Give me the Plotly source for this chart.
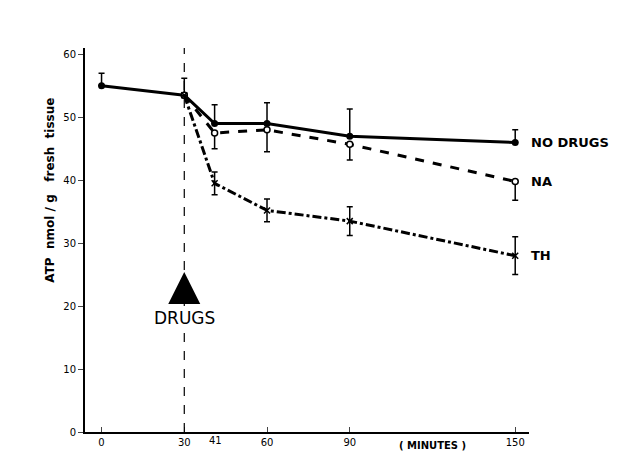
import plotly.graph_objects as go

t_pre = [0, 30]
atp_pre = [55, 53.5]
err_pre = [2, 2.7]

t = [30, 41, 60, 90, 150]
no_drugs = [53.5, 49, 49, 47, 46]
no_drugs_err = [0, 3, 3.3, 4.3, 2]
na = [53.5, 47.5, 48, 45.7, 39.8]
na_err = [0, 2.5, 3.5, 2.5, 3]
th = [53.5, 39.5, 35.2, 33.5, 28]
th_err = [0, 1.8, 1.8, 2.3, 3]

black = "black"
fig = go.Figure()
fig.add_trace(go.Scatter(x=t_pre, y=atp_pre, mode="lines+markers",
                         line=dict(color=black, width=3), marker=dict(size=7, color=black),
                         error_y=dict(type="data", array=err_pre, arrayminus=[0, 0], color=black, width=3, thickness=1.5)))
fig.add_trace(go.Scatter(x=t, y=no_drugs, mode="lines+markers",
                         line=dict(color=black, width=3), marker=dict(size=7, color=black),
                         error_y=dict(type="data", array=no_drugs_err, arrayminus=[0]*5, color=black, width=3, thickness=1.5)))
fig.add_trace(go.Scatter(x=t, y=na, mode="lines+markers",
                         line=dict(color=black, width=3, dash="dash"),
                         marker=dict(size=6, color="white", line=dict(color=black, width=1.5)),
                         error_y=dict(type="data", array=[0]*5, arrayminus=na_err, color=black, width=3, thickness=1.5)))
fig.add_trace(go.Scatter(x=t, y=th, mode="lines+markers",
                         line=dict(color=black, width=3, dash="dashdot"),
                         marker=dict(size=6, color=black, symbol="x-thin", line=dict(color=black, width=1.5)),
                         error_y=dict(type="data", array=th_err, color=black, width=3, thickness=1.5)))

fig.add_vline(x=30, line=dict(color=black, width=1.2, dash="dash"))

for name, y in [("NO DRUGS", no_drugs[-1]), ("NA", na[-1]), ("TH", th[-1])]:
    fig.add_annotation(x=150, y=y, text="<b>" + name + "</b>", xanchor="left", xshift=14,
                       showarrow=False, font=dict(size=13, color=black))
fig.add_annotation(x=30, y=20.0, text="DRUGS", showarrow=False, yanchor="top", bgcolor="white",
                   font=dict(size=17, color=black))
fig.add_annotation(x=30, y=25.4, ax=30, ay=22.2, xref="x", yref="y", axref="x", ayref="y",
                   text="", showarrow=True, arrowhead=2, arrowsize=0.8, arrowwidth=8, arrowcolor=black)
fig.add_annotation(x=41, y=0, text="41", showarrow=False, yshift=-8, xshift=1,
                   font=dict(size=10, color=black))
fig.add_annotation(x=120, y=0, text="<b>( MINUTES )</b>", showarrow=False, yshift=-13,
                   font=dict(size=10, color=black))
fig.add_annotation(xref="paper", yref="paper", x=-0.1, y=0.63, text="<b>ATP  nmol / g   fresh  tissue</b>",
                   textangle=-90, showarrow=False, font=dict(size=12, color=black))

fig.update_layout(
    width=624, height=452, showlegend=False,
    plot_bgcolor="white", paper_bgcolor="white",
    margin=dict(l=77, r=103, t=40, b=24),
    font=dict(family="DejaVu Sans", color=black, size=10),
    xaxis=dict(range=[-6, 155], tickvals=[0, 30, 60, 90, 150], ticks="inside", ticklen=5,
               showline=True, linecolor=black, linewidth=2, showgrid=False, zeroline=False,
               tickfont=dict(size=10)),
    yaxis=dict(range=[0, 61], tickvals=[0, 10, 20, 30, 40, 50, 60], ticks="outside", ticklen=5,
               showline=True, linecolor=black, linewidth=2, showgrid=False, zeroline=False,
               tickfont=dict(size=10)),
)
fig.write_html("out.html")
